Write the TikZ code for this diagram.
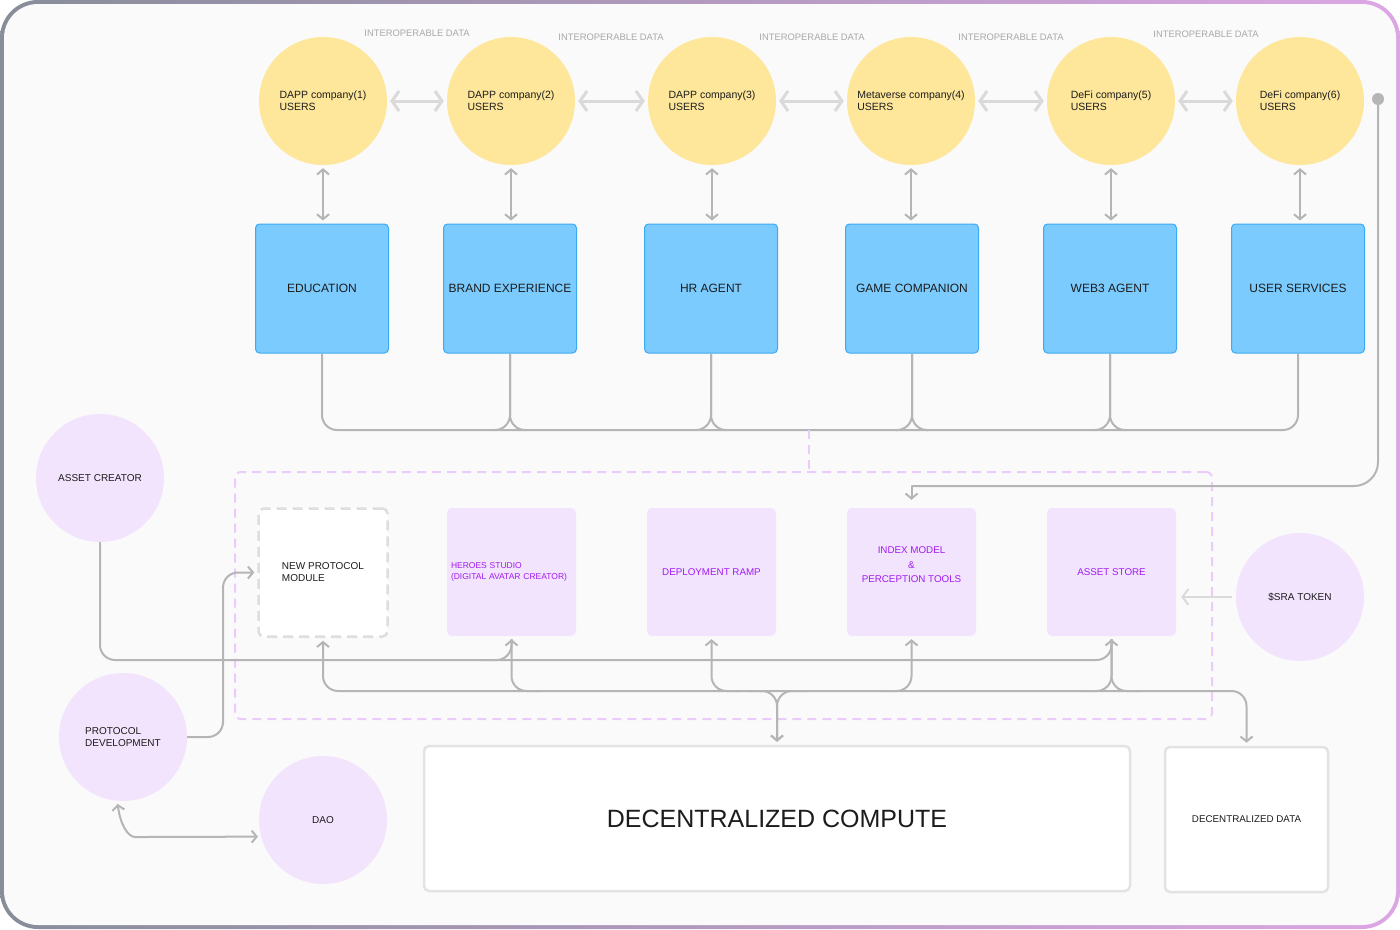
\documentclass[tikz,border=0pt]{standalone}
\usepackage{fontspec}
\setmainfont{Liberation Sans}
\usetikzlibrary{arrows.meta,calc}

\definecolor{canvas}{HTML}{FAFAFA}
\definecolor{rimgray}{HTML}{878D99}
\definecolor{rimpink}{HTML}{DCA6E4}
\definecolor{userfill}{HTML}{FEE79B}
\definecolor{agentfill}{HTML}{7BCBFE}
\definecolor{agentline}{HTML}{3EAAF3}
\definecolor{lilac}{HTML}{F3E4FE}
\definecolor{lilacline}{HTML}{EBCBFC}
\definecolor{violet}{HTML}{A11AF2}
\definecolor{wiregray}{HTML}{B5B5B5}
\definecolor{peergray}{HTML}{DADADA}
\definecolor{notegray}{HTML}{A9A9A9}
\definecolor{boxline}{HTML}{E3E3E3}
\definecolor{npmline}{HTML}{DEDEDE}
\definecolor{ink}{HTML}{1C1C1C}

\newcommand{\fsz}[2]{\fontsize{#1pt}{#2pt}\selectfont}

\begin{document}
\begin{tikzpicture}[x=1pt,y=-1pt,
	user/.style={circle,fill=userfill,minimum size=128pt,inner sep=0pt,align=left,text=ink,font=\fsz{10.5}{12}},
	agent/.style={rectangle,rounded corners=4pt,fill=agentfill,draw=agentline,line width=1pt,minimum width=133pt,minimum height=129pt,inner sep=2pt,text=ink,font=\fsz{12}{15}},
	tool/.style={rectangle,rounded corners=5pt,fill=lilac,minimum width=129pt,minimum height=128pt,align=center,text=violet,font=\fsz{9.8}{14.5}},
	actor/.style={circle,fill=lilac,minimum size=128pt,inner sep=0pt,align=left,text=ink,font=\fsz{10}{12}},
	infra/.style={rectangle,rounded corners=5pt,fill=white,draw=boxline,line width=2.5pt,minimum height=145pt,text=ink},
	zone/.style={rectangle,rounded corners=6pt,draw=lilacline,line width=2pt,dash pattern=on 9pt off 6pt,minimum width=977pt,minimum height=247pt},
	note/.style={text=notegray,font=\fsz{9.4}{11}},
	peer/.style={draw=peergray,line width=3pt,{Straight Barb[length=7pt,width=20pt]}-{Straight Barb[length=7pt,width=20pt]},shorten <=3pt,shorten >=3pt},
	wire/.style={draw=wiregray,line width=2pt,rounded corners=15pt},
	tipend/.style={-{Straight Barb[length=5pt,width=12pt]},shorten >=3pt},
	tipstart/.style={{Straight Barb[length=5pt,width=12pt]}-,shorten <=3pt},
	tipboth/.style={{Straight Barb[length=5pt,width=12pt]}-{Straight Barb[length=5pt,width=12pt]},shorten <=3pt,shorten >=3pt}]

	\useasboundingbox (0,0) rectangle (1400,929);
	\shade[left color=rimgray,middle color=rimgray,right color=rimpink,rounded corners=38pt] (0,0) rectangle (1400,929);
	\fill[canvas,rounded corners=34pt] (4,4) rectangle (1396,925);

	\node[user] (u1) at (323,101) {DAPP company(1)\\USERS};
	\node[user] (u2) at (511,101) {DAPP company(2)\\USERS};
	\node[user] (u3) at (712,101) {DAPP company(3)\\USERS};
	\node[user] (u4) at (911,101) {Metaverse company(4)\\USERS};
	\node[user] (u5) at (1111,101) {DeFi company(5)\\USERS};
	\node[user] (u6) at (1300,101) {DeFi company(6)\\USERS};

	\node[note] (d12) at (417,33) {INTEROPERABLE DATA};
	\node[note] (d23) at (611,37) {INTEROPERABLE DATA};
	\node[note] (d34) at (812,37) {INTEROPERABLE DATA};
	\node[note] (d45) at (1011,37) {INTEROPERABLE DATA};
	\node[note] (d56) at (1206,34) {INTEROPERABLE DATA};

	\foreach \a/\b in {u1/u2,u2/u3,u3/u4,u4/u5,u5/u6}
		\draw[peer] (\a) -- (\b);

	\node[agent] (edu) at (322,288.5) {EDUCATION};
	\node[agent] (brand) at (510,288.5) {BRAND EXPERIENCE};
	\node[agent] (hr) at (711,288.5) {HR AGENT};
	\node[agent] (game) at (912,288.5) {GAME COMPANION};
	\node[agent] (web3) at (1110,288.5) {WEB3 AGENT};
	\node[agent] (svc) at (1298,288.5) {USER SERVICES};

	\foreach \a/\b in {u1/edu,u2/brand,u3/hr,u4/game,u5/web3,u6/svc}
		\draw[wire,tipboth] (\a.south) -- (\a.south |- \b.north);

	\coordinate (bus) at (0,430);
	\draw[wire] (edu.south) -- (edu.south |- bus) -- (svc.south |- bus) -- (svc.south);
	\foreach \b in {brand,hr,game,web3}{
		\draw[wire] (\b.south) -- (\b.south |- bus) -- ++(-16,0);
		\draw[wire] (\b.south) -- (\b.south |- bus) -- ++(16,0);
	}

	\node[zone] (core) at (723.5,595.5) {};
	\coordinate (hub) at (809,430);
	\draw[draw=lilacline,line width=2pt,dash pattern=on 9pt off 6pt] (hub) -- (hub |- core.north);

	\node[tool,fill=white,draw=npmline,line width=2.5pt,dash pattern=on 10pt off 6pt,text=ink,align=left,font=\fsz{10}{12}] (npm) at (323,572.5) {NEW PROTOCOL\\MODULE};
	\node[tool,text width=121pt,align=left,font=\fsz{8.5}{11}] (heroes) at (511.5,572) {HEROES STUDIO\\(DIGITAL AVATAR CREATOR)};
	\node[tool] (ramp) at (711.5,572) {DEPLOYMENT RAMP};
	\node[tool] (index) at (911.5,572) {INDEX MODEL\\\&\\PERCEPTION TOOLS\\\mbox{}};
	\node[tool] (store) at (1111.5,572) {ASSET STORE};

	\node[actor] (ac) at (100,478) {ASSET CREATOR};
	\node[actor] (pd) at (123,737) {PROTOCOL\\DEVELOPMENT};
	\node[actor] (dao) at (323,820) {DAO};
	\node[actor] (sra) at (1300,597) {\$SRA TOKEN};

	\node[infra,minimum width=706pt,font=\fsz{25}{30}] (compute) at (777,818.5) {DECENTRALIZED COMPUTE};
	\node[infra,minimum width=163pt,font=\fsz{9.8}{12}] (data) at (1246.5,819.5) {DECENTRALIZED DATA};

	\node[circle,fill=wiregray,minimum size=12pt,inner sep=0pt] (feed) at (1378,99) {};
	\coordinate (turn) at (0,486);
	\draw[wire,rounded corners=24pt] (feed.center) -- (feed |- turn) -- (index.north |- turn);
	\draw[wire,line cap=round,tipend,shorten >=8pt] (index.north |- turn) -- (index.north);

	\coordinate (up) at (0,660);
	\coordinate (low) at (0,691);
	\draw[wire,tipend] (ac.south) -- (ac.south |- up) -- (store.south |- up) -- (store.south);
	\draw[wire,tipend] ($(heroes.south |- up)+(-30,0)$) -- (heroes.south |- up) -- (heroes.south);

	\draw[wire,tipboth] (npm.south) -- (npm.south |- low) -- (data.north |- low) -- (data.north);
	\draw[wire,shorten <=3pt] (heroes.south) -- (heroes.south |- low) -- ++(30,0);
	\draw[wire,tipstart] (ramp.south) -- (ramp.south |- low) -- ++(30,0);
	\draw[wire,tipstart] (index.south) -- (index.south |- low) -- ++(-30,0);
	\draw[wire,shorten <=3pt] (store.south) -- (store.south |- low) -- ++(-30,0);
	\draw[wire,shorten <=3pt] (store.south) -- (store.south |- low) -- ++(30,0);
	\draw[wire,tipend] ($(compute.north |- low)+(-30,0)$) -- (compute.north |- low) -- (compute.north);
	\draw[wire,tipend] ($(compute.north |- low)+(30,0)$) -- (compute.north |- low) -- (compute.north);

	\coordinate (bend) at (223,0);
	\draw[wire,tipend] (pd.east) -- (pd.east -| bend) -- (bend |- npm.west) -- (npm.west);
	\draw[wire,tipboth] (pd.265) .. controls (120,824) and (128,837) .. (150,837) -- (dao.195);

	\draw[peer,line width=2pt,-{Straight Barb[length=6pt,width=16pt]},shorten <=4pt,shorten >=5pt] (sra.west) -- (sra.west -| store.east);
\end{tikzpicture}
\end{document}
